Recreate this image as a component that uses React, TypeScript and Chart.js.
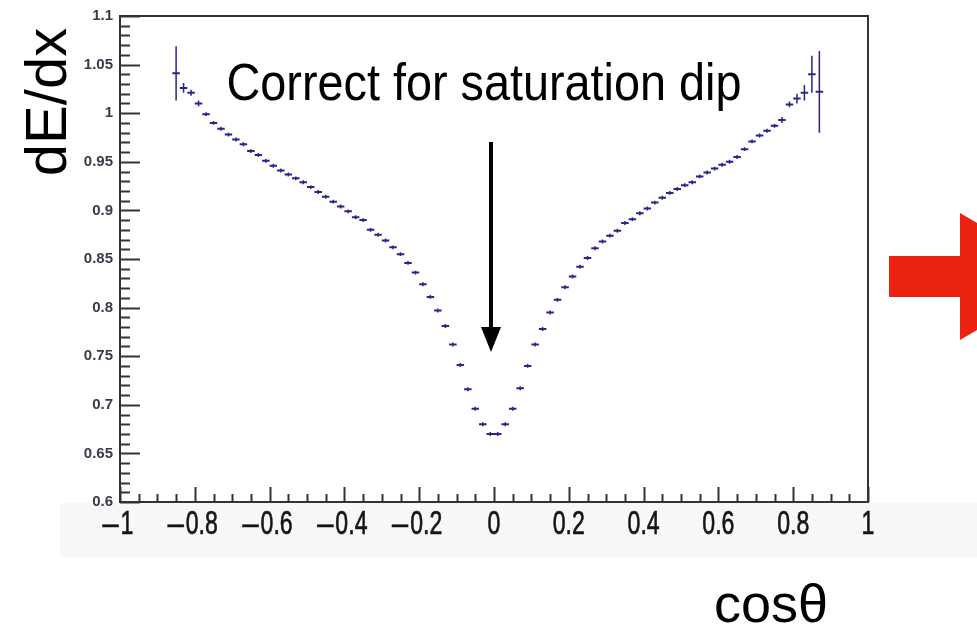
import React, { useEffect, useRef } from "react";
import { Chart, registerables } from "chart.js";

Chart.register(...registerables);

// ---- data ----
const X_CENTERS: number[] = [
  -0.85, -0.83, -0.81, -0.79, -0.77, -0.75, -0.73, -0.71, -0.69, -0.67,
  -0.65, -0.63, -0.61, -0.59, -0.57, -0.55, -0.53, -0.51, -0.49, -0.47,
  -0.45, -0.43, -0.41, -0.39, -0.37, -0.35, -0.33, -0.31, -0.29, -0.27,
  -0.25, -0.23, -0.21, -0.19, -0.17, -0.15, -0.13, -0.11, -0.09, -0.07,
  -0.05, -0.03, -0.01, 0.01, 0.03, 0.05, 0.07, 0.09, 0.11, 0.13,
  0.15, 0.17, 0.19, 0.21, 0.23, 0.25, 0.27, 0.29, 0.31, 0.33,
  0.35, 0.37, 0.39, 0.41, 0.43, 0.45, 0.47, 0.49, 0.51, 0.53,
  0.55, 0.57, 0.59, 0.61, 0.63, 0.65, 0.67, 0.69, 0.71, 0.73,
  0.75, 0.77, 0.79, 0.81, 0.83, 0.85, 0.87,
];

const DEDX: number[] = [
  1.041, 1.026, 1.021, 1.010, 0.999, 0.990, 0.984, 0.978, 0.973, 0.968,
  0.961, 0.957, 0.951, 0.946, 0.941, 0.937, 0.933, 0.929, 0.924, 0.919,
  0.914, 0.909, 0.904, 0.899, 0.893, 0.890, 0.880, 0.875, 0.869, 0.862,
  0.855, 0.846, 0.836, 0.824, 0.811, 0.797, 0.781, 0.762, 0.741, 0.716,
  0.696, 0.680, 0.670, 0.670, 0.680, 0.696, 0.717, 0.740, 0.762, 0.778,
  0.795, 0.808, 0.821, 0.832, 0.842, 0.851, 0.861, 0.868, 0.874, 0.879,
  0.887, 0.891, 0.897, 0.902, 0.908, 0.913, 0.918, 0.922, 0.926, 0.929,
  0.935, 0.939, 0.943, 0.947, 0.950, 0.955, 0.963, 0.971, 0.977, 0.982,
  0.987, 0.993, 1.009, 1.015, 1.021, 1.040, 1.022,
];

const DEDX_ERR: number[] = [
  0.028, 0.005, 0.003, 0.003, 0.002, 0.002, 0.002, 0.002, 0.002, 0.002,
  0.002, 0.002, 0.002, 0.002, 0.002, 0.002, 0.002, 0.002, 0.002, 0.002,
  0.002, 0.002, 0.002, 0.002, 0.002, 0.002, 0.002, 0.002, 0.002, 0.002,
  0.002, 0.002, 0.002, 0.002, 0.002, 0.002, 0.002, 0.002, 0.002, 0.002,
  0.002, 0.002, 0.002, 0.002, 0.002, 0.002, 0.002, 0.002, 0.002, 0.002,
  0.002, 0.002, 0.002, 0.002, 0.002, 0.002, 0.002, 0.002, 0.002, 0.002,
  0.002, 0.002, 0.002, 0.002, 0.002, 0.002, 0.002, 0.002, 0.002, 0.002,
  0.002, 0.002, 0.002, 0.002, 0.002, 0.002, 0.002, 0.002, 0.002, 0.002,
  0.002, 0.003, 0.003, 0.005, 0.008, 0.019, 0.042,
];

const BIN_HALF_WIDTH = 0.01;

const X_TICK_VALUES: number[] = [-1, -0.8, -0.6, -0.4, -0.2, 0, 0.2, 0.4, 0.6, 0.8, 1];
const X_TICK_LABELS: string[] = [
  "\u20131", "\u20130.8", "\u20130.6", "\u20130.4", "\u20130.2",
  "0", "0.2", "0.4", "0.6", "0.8", "1",
];
const Y_TICK_LABELS: string[] = [
  "0.6", "0.65", "0.7", "0.75", "0.8", "0.85", "0.9", "0.95", "1", "1.05", "1.1",
];

const Y_TITLE = "dE/dx";
const X_TITLE = "cos\u03B8";
const ANNOTATION = "Correct for saturation dip";

const W = 977;
const H = 627;

export default function App() {
  const ref = useRef<HTMLCanvasElement | null>(null);

  useEffect(() => {
    document.body.style.margin = "0";
    const canvas = ref.current;
    if (!canvas) return;

    const hSeg: any[] = [];
    const vSeg: any[] = [];
    X_CENTERS.forEach((c, i) => {
      const y = DEDX[i];
      const e = DEDX_ERR[i];
      hSeg.push({ x: c - BIN_HALF_WIDTH, y }, { x: c + BIN_HALF_WIDTH, y }, { x: c, y: null });
      vSeg.push({ x: c, y: y - e }, { x: c, y: y + e }, { x: c, y: null });
    });

    const color = "#25258c";
    const font = "'Liberation Sans', Arial, sans-serif";

    const decor = {
      id: "decor",
      beforeDraw(chart: any) {
        const ctx = chart.ctx;
        ctx.save();
        ctx.fillStyle = "#ffffff";
        ctx.fillRect(0, 0, W, H);
        ctx.fillStyle = "#f8f8f8";
        ctx.fillRect(60, 503, W - 60, 55);
        ctx.fillStyle = "#ffffff";
        const a = chart.chartArea;
        ctx.fillRect(a.left, a.top, a.right - a.left, a.bottom - a.top);
        ctx.restore();
      },
      afterDraw(chart: any) {
        const ctx = chart.ctx;
        const a = chart.chartArea;
        const xs = chart.scales.x;
        const ys = chart.scales.y;
        ctx.save();
        // frame
        ctx.strokeStyle = "#333333";
        ctx.lineWidth = 2;
        ctx.strokeRect(a.left, a.top, a.right - a.left, a.bottom - a.top);
        // y ticks (inward)
        for (let k = 0; k <= 50; k++) {
          const v = 0.6 + k * 0.01;
          const py = Math.round(ys.getPixelForValue(v)) + 0.5;
          const len = k % 5 === 0 ? 20 : 10;
          ctx.beginPath();
          ctx.moveTo(a.left, py);
          ctx.lineTo(a.left + len, py);
          ctx.stroke();
        }
        // x ticks (inward)
        for (let k = 0; k <= 40; k++) {
          const v = -1 + k * 0.05;
          const px = Math.round(xs.getPixelForValue(v)) + 0.5;
          const len = k % 4 === 0 ? 15 : 8;
          ctx.beginPath();
          ctx.moveTo(px, a.bottom);
          ctx.lineTo(px, a.bottom - len);
          ctx.stroke();
        }
        // x tick labels (condensed, as in the reference)
        const sx = 0.68;
        const sxDash = 0.85;
        ctx.fillStyle = "#151515";
        ctx.strokeStyle = "#151515";
        ctx.lineWidth = 0.7;
        ctx.font = "34px " + font;
        ctx.textAlign = "left";
        ctx.textBaseline = "alphabetic";
        X_TICK_VALUES.forEach((v, i) => {
          const px = xs.getPixelForValue(v);
          const label = X_TICK_LABELS[i];
          const neg = label.startsWith("\u2013");
          const num = neg ? label.slice(1) : label;
          const nW = ctx.measureText(num).width * sx;
          const dW = neg ? ctx.measureText("\u2013").width * sxDash : 0;
          const gap = neg ? 2 : 0;
          const total = dW + gap + nW;
          const start = px - total / 2 - (neg ? 2 : 0);
          if (neg) {
            ctx.save();
            ctx.translate(start, 534);
            ctx.scale(sxDash, 1);
            ctx.fillText("\u2013", 0, 0);
            ctx.strokeText("\u2013", 0, 0);
            ctx.restore();
          }
          ctx.save();
          ctx.translate(start + dW + gap, 534);
          ctx.scale(sx, 1);
          ctx.fillText(num, 0, 0);
          ctx.strokeText(num, 0, 0);
          ctx.restore();
        });
        // annotation text
        ctx.fillStyle = "#000000";
        ctx.save();
        ctx.translate(484, 100);
        ctx.scale(0.9, 1);
        ctx.font = "52px " + font;
        ctx.textAlign = "center";
        ctx.fillText(ANNOTATION, 0, 0);
        ctx.restore();
        // black arrow
        ctx.fillRect(489, 142, 4, 188);
        ctx.beginPath();
        ctx.moveTo(481, 327);
        ctx.lineTo(501, 327);
        ctx.lineTo(491, 352);
        ctx.closePath();
        ctx.fill();
        // y title
        ctx.save();
        ctx.translate(66, 102);
        ctx.rotate(-Math.PI / 2);
        ctx.font = "58px " + font;
        ctx.textAlign = "center";
        ctx.fillText(Y_TITLE, 0, 0);
        ctx.restore();
        // x title
        ctx.font = "54px " + font;
        ctx.textAlign = "center";
        ctx.fillText(X_TITLE, 771, 622);
        // red arrow
        ctx.fillStyle = "#ea2211";
        ctx.fillRect(889, 256, 72, 41);
        ctx.beginPath();
        ctx.moveTo(960, 213);
        ctx.lineTo(1068, 276.5);
        ctx.lineTo(960, 340);
        ctx.closePath();
        ctx.fill();
        ctx.restore();
      },
    };

    const chart = new Chart(canvas, {
      type: "line",
      data: {
        datasets: [
          {
            data: hSeg,
            borderColor: color,
            borderWidth: 2,
            pointRadius: 0,
            spanGaps: false,
          },
          {
            data: vSeg,
            borderColor: color,
            borderWidth: 1.5,
            pointRadius: 0,
            spanGaps: false,
          },
        ],
      },
      options: {
        responsive: false,
        animation: false,
        layout: { padding: { left: 0, top: 16, right: 109, bottom: 0 } },
        plugins: {
          legend: { display: false },
          tooltip: { enabled: false },
          title: { display: false },
        },
        scales: {
          x: {
            type: "linear",
            min: -1,
            max: 1,
            afterFit: (s: any) => {
              s.height = 125;
              s.paddingLeft = 0;
              s.paddingRight = 0;
            },
            grid: { display: false, drawTicks: false },
            border: { display: false },
            ticks: {
              display: false,
              stepSize: 0.2,
            },
          },
          y: {
            type: "linear",
            min: 0.6,
            max: 1.1,
            afterFit: (s: any) => {
              s.width = 120;
              s.paddingTop = 0;
              s.paddingBottom = 0;
            },
            grid: { display: false, drawTicks: false },
            border: { display: false },
            ticks: {
              stepSize: 0.05,
              padding: 7,
              autoSkip: false,
              color: "#3a3a48",
              font: { family: font, size: 15, weight: "bold" },
              callback: (_v: any, i: number) => Y_TICK_LABELS[i],
            },
          },
        },
      },
      plugins: [decor],
    } as any);

    return () => chart.destroy();
  }, []);

  return <canvas ref={ref} width={W} height={H} style={{ display: "block", width: W, height: H }} />;
}
